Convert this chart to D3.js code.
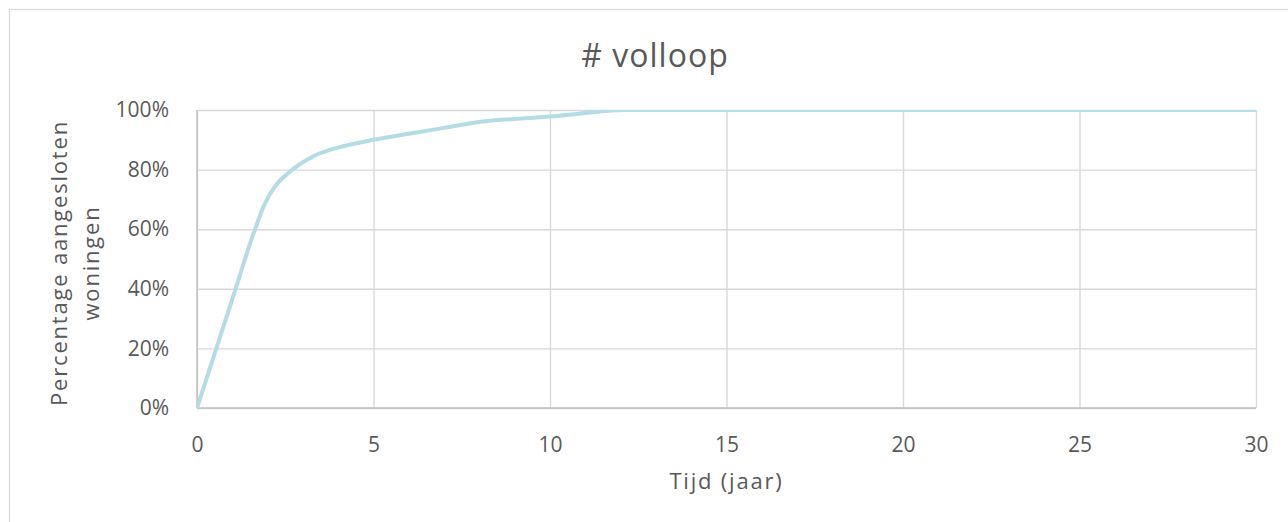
<!DOCTYPE html>
<html>
<head>
	<meta charset="utf-8">
	<title># volloop</title>
	<script src="https://d3js.org/d3.v7.min.js"></script>
	<style>
		body { margin: 0; background: #fff; }
		text { font-family: 'Open Sans', sans-serif; fill: #595959; }
	</style>
</head>
<body>
	<div class="chart"></div>

	<script type="text/javascript">
		// jaren en aandeel aangesloten woningen
		const jaren = [0, 1, 1.6, 1.9, 2.2, 2.6, 3.3, 4.2, 5, 6, 7, 8, 9, 10, 11, 12.1, 15, 20, 25, 30]
		const aandeel = [0, 0.365, 0.585, 0.68, 0.742, 0.79, 0.845, 0.88, 0.90, 0.92, 0.94, 0.96, 0.97, 0.978, 0.99, 1, 1, 1, 1, 1]
		const xTicks = [0, 5, 10, 15, 20, 25, 30]
		const yTicks = [0, 0.2, 0.4, 0.6, 0.8, 1]

		const titel = '# volloop'
		const xTitel = 'Tijd (jaar)'
		const yTitel = ['Percentage aangesloten', 'woningen']

		const width = 1288
		const height = 522
		const margin = { top: 110, right: 32, bottom: 114, left: 197 }
		const innerW = width - margin.left - margin.right
		const innerH = height - margin.top - margin.bottom

		const svg = d3.select('.chart').append('svg')
			.attr('width', width)
			.attr('height', height)

		// kader rond de grafiek
		svg.append('rect')
			.attr('x', 9.5)
			.attr('y', 9.5)
			.attr('width', width + 20)
			.attr('height', height + 20)
			.attr('fill', 'none')
			.attr('stroke', '#d9d9d9')
			.attr('stroke-width', 1.3)

		const xScale = d3.scaleLinear()
			.domain([0, 30])
			.range([0, innerW])

		const yScale = d3.scaleLinear()
			.domain([0, 1])
			.range([innerH, 0])

		const chart = svg.append('g')
			.attr('transform', `translate(${margin.left}, ${margin.top})`)

		// rasterlijnen
		chart.append('g')
			.attr('transform', `translate(0, ${innerH})`)
			.call(d3.axisBottom(xScale).tickValues(xTicks).tickSize(-innerH).tickFormat(''))
			.call(g => g.select('.domain').remove())
			.call(g => g.selectAll('line').attr('stroke', '#d9d9d9').attr('stroke-width', 1.4))

		chart.append('g')
			.call(d3.axisLeft(yScale).tickValues(yTicks).tickSize(-innerW).tickFormat(''))
			.call(g => g.select('.domain').remove())
			.call(g => g.selectAll('line').attr('stroke', '#d9d9d9').attr('stroke-width', 1.4))

		// assen
		chart.append('line')
			.attr('x1', 0).attr('x2', 0)
			.attr('y1', 0).attr('y2', innerH)
			.attr('stroke', '#bfbfbf').attr('stroke-width', 1.4)
		chart.append('line')
			.attr('x1', 0).attr('x2', innerW)
			.attr('y1', innerH).attr('y2', innerH)
			.attr('stroke', '#bfbfbf').attr('stroke-width', 1.4)

		// lijn, afgesneden op het plotvlak
		svg.append('clipPath')
			.attr('id', 'plot')
			.append('rect')
			.attr('x', 0).attr('y', 0)
			.attr('width', innerW).attr('height', innerH)

		const line = d3.line()
			.x((d, i) => xScale(jaren[i]))
			.y(d => yScale(d))
			.curve(d3.curveMonotoneX)

		chart.append('path')
			.attr('clip-path', 'url(#plot)')
			.attr('d', line(aandeel))
			.attr('fill', 'none')
			.attr('stroke', '#b4dce7')
			.attr('stroke-width', 4)
			.attr('stroke-linecap', 'round')

		// aslabels
		chart.append('g')
			.attr('transform', `translate(-25, 0)`)
			.call(d3.axisLeft(yScale).tickValues(yTicks).tickSize(0).tickFormat(d3.format('.0%')))
			.call(g => g.select('.domain').remove())
			.call(g => g.selectAll('text')
				.attr('font-family', null).attr('fill', null)
				.attr('font-size', 21))

		chart.append('g')
			.attr('transform', `translate(0, ${innerH + 26})`)
			.call(d3.axisBottom(xScale).tickValues(xTicks).tickSize(0))
			.call(g => g.select('.domain').remove())
			.call(g => g.selectAll('text')
				.attr('font-family', null).attr('fill', null)
				.attr('font-size', 21))

		// titels
		svg.append('text')
			.attr('x', 655)
			.attr('y', 67)
			.attr('text-anchor', 'middle')
			.attr('font-size', 32)
			.attr('letter-spacing', 1)
			.text(titel)

		svg.append('text')
			.attr('x', margin.left + innerW / 2)
			.attr('y', 489)
			.attr('text-anchor', 'middle')
			.attr('font-size', 22)
			.attr('letter-spacing', 1.8)
			.text(xTitel)

		const yT = svg.append('text')
			.attr('transform', `translate(67, ${margin.top + innerH / 2 + 4}) rotate(-90)`)
			.attr('text-anchor', 'middle')
			.attr('font-size', 22)
			.attr('letter-spacing', 1.8)

		yT.selectAll('tspan')
			.data(yTitel)
			.join('tspan')
			.attr('x', 0)
			.attr('y', (d, i) => i * 32)
			.text(d => d)
	</script>
</body>
</html>
